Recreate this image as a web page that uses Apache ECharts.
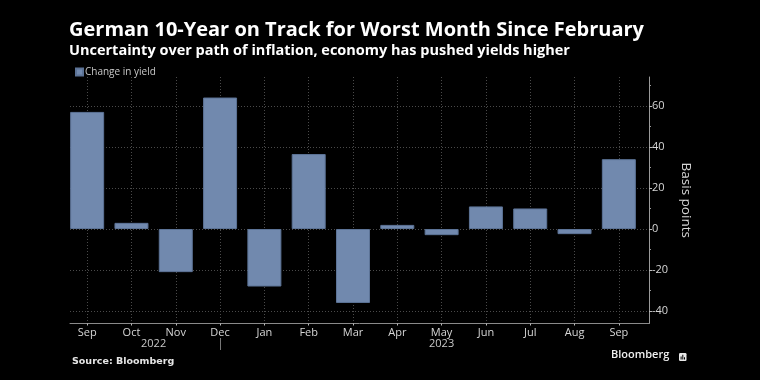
<!DOCTYPE html>
<html>
<head>
<meta charset="utf-8">
<script src="https://cdn.jsdelivr.net/npm/echarts@6/dist/echarts.min.js"></script>
<style>
html,body{margin:0;padding:0;background:#000;}
#chart{width:760px;height:380px;}
</style>
</head>
<body>
<div id="chart"></div>
<script>
// ---- data ----
const months = ['Sep','Oct','Nov','Dec','Jan','Feb','Mar','Apr','May','Jun','Jul','Aug','Sep'];
const years  = ['2022','2022','2022','2022','2023','2023','2023','2023','2023','2023','2023','2023','2023'];
const changeInYield = [57, 3, -21, 64, -28, 36.5, -36, 2, -3, 11, 10, -2.5, 34];
const yTicks = [-40, -20, 0, 20, 40, 60];
const yMinorTicks = [-30, -10, 10, 30, 50, 70];
const yMin = -46, yMax = 74;
const yearSeparatorIndex = 3;

// year label centres computed from the month index list
const yearNames = [...new Set(years)];
const yearCenters = yearNames.map(y => {
  const idx = years.map((v, i) => v === y ? i : null).filter(v => v !== null);
  return idx.reduce((a, b) => a + b, 0) / idx.length;
});
const monthIdx = months.map((_, i) => i);

const FONT = "'Open Sans', 'Noto Sans', sans-serif";
const grid = '#4a4a4a';

const chart = echarts.init(document.getElementById('chart'));
chart.setOption({
  backgroundColor: '#000',
  animation: false,
  title: [
    { text: 'German 10-Year on Track for Worst Month Since February', left: 64, top: 15,
      textStyle: { color: '#fff', fontFamily: FONT, fontWeight: 'bold', fontSize: 20 } },
    { text: 'Uncertainty over path of inflation, economy has pushed yields higher', left: 64, top: 38,
      textStyle: { color: '#fff', fontFamily: FONT, fontWeight: 'bold', fontSize: 14.5 } },
    { text: 'Source: Bloomberg', left: 67, top: 352,
      textStyle: { color: '#e6e6e6', fontFamily: "'DejaVu Sans', sans-serif", fontWeight: 'bold', fontSize: 9.5 } }
  ],
  legend: {
    left: 70, top: 62, icon: 'rect', itemWidth: 7, itemHeight: 7,
    data: ['Change in yield'],
    textStyle: { color: '#c8c8c8', fontFamily: FONT, fontSize: 10, padding: [0, 0, 0, -3] }
  },
  graphic: [
    { type: 'text', left: 611, top: 349,
      style: { text: 'Bloomberg', fill: '#f0f0f0', font: "600 11px 'Open Sans', sans-serif" } },
    { type: 'group', left: 679, top: 353, children: [
      { type: 'rect', shape: { x: 0, y: 0, width: 7.5, height: 8, r: 1.2 }, style: { fill: '#e8e8e8' } },
      { type: 'rect', shape: { x: 1.6, y: 3.5, width: 1, height: 3 }, style: { fill: '#000' } },
      { type: 'rect', shape: { x: 3.3, y: 1.8, width: 1, height: 4.7 }, style: { fill: '#000' } },
      { type: 'rect', shape: { x: 5, y: 4.2, width: 1, height: 2.3 }, style: { fill: '#000' } }
    ]}
  ],
  grid: [
    { left: 65, right: 119, top: 77, height: 246.5 },
    { left: 70, right: 111, top: 77, height: 246.5 }
  ],
  xAxis: [
    { type: 'category', gridIndex: 0, data: months, position: 'bottom',
      axisLine: { show: false, onZero: false },
      axisTick: { show: true, alignWithLabel: true, length: 2, lineStyle: { color: '#bbb' } },
      axisLabel: { color: '#d6d6d6', fontFamily: FONT, fontSize: 11, margin: 4 },
      splitLine: { show: false } },
    { type: 'value', gridIndex: 0, position: 'top', min: -0.5, max: 12.5,
      axisLine: { show: false, onZero: false }, axisLabel: { show: false },
      axisTick: { show: false, customValues: monthIdx },
      splitLine: { show: true, lineStyle: { color: grid, type: [1, 2], width: 1 } } },
    { type: 'value', gridIndex: 0, position: 'bottom', offset: 14.5, min: -0.5, max: 12.5,
      axisLine: { show: false, onZero: false },
      axisTick: { show: true, customValues: [yearSeparatorIndex], length: 12, lineStyle: { color: '#777' } },
      axisLabel: { show: true, customValues: yearCenters, margin: 0, color: '#c8c8c8', fontFamily: FONT, fontSize: 11,
        formatter: v => { const k = yearCenters.findIndex(c => Math.abs(c - v) < 1e-6); return k >= 0 ? yearNames[k] : ''; } },
      splitLine: { show: false } },
    { type: 'value', gridIndex: 1, position: 'bottom', min: 0, max: 1,
      axisLine: { show: true, onZero: false, lineStyle: { color: '#8a8a8a', width: 1 } },
      axisTick: { show: false }, axisLabel: { show: false }, splitLine: { show: false } }
  ],
  yAxis: [
    { type: 'value', gridIndex: 0, min: yMin, max: yMax, show: false, splitLine: { show: false } },
    { type: 'value', gridIndex: 1, min: yMin, max: yMax, position: 'right',
      name: 'Basis points', nameLocation: 'middle', nameRotate: -90, nameGap: 29,
      nameTextStyle: { color: '#d6d6d6', fontFamily: FONT, fontSize: 13.5 },
      axisLine: { show: true, onZero: false, lineStyle: { color: '#9a9a9a', width: 1 } },
      axisTick: { show: true, customValues: yTicks, length: 3, lineStyle: { color: '#bbb' } },
      axisLabel: { show: true, customValues: yTicks, color: '#d6d6d6', fontFamily: FONT, fontSize: 11, margin: 3 },
      splitLine: { show: true, lineStyle: { color: grid, type: [1, 2], width: 1 } } },
    { type: 'value', gridIndex: 1, min: yMin, max: yMax, position: 'right',
      axisLine: { show: false, onZero: false },
      axisTick: { show: true, customValues: yMinorTicks, length: 2, lineStyle: { color: '#999' } },
      axisLabel: { show: false }, splitLine: { show: false } }
  ],
  series: [
    { name: 'Change in yield', type: 'bar', xAxisIndex: 0, yAxisIndex: 0,
      data: changeInYield, barWidth: 34,
      itemStyle: { color: '#7189ae', borderColor: '#5c7396', borderWidth: 1 } }
  ]
});
</script>
</body>
</html>
